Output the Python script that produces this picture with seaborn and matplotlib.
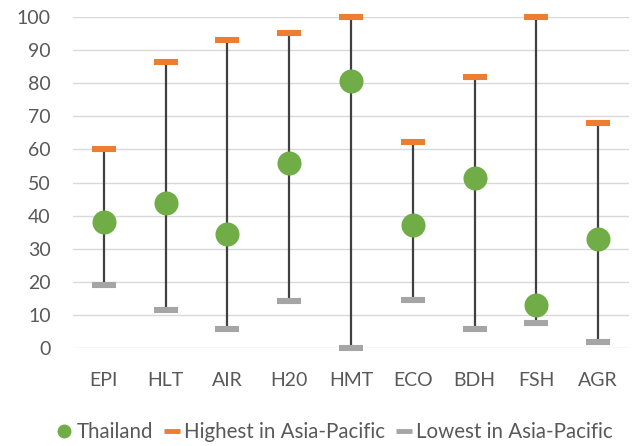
import numpy as np
import matplotlib
matplotlib.use("Agg")
import matplotlib.pyplot as plt
from matplotlib.lines import Line2D
import seaborn as sns
import pandas as pd

categories = ["EPI", "HLT", "AIR", "H20", "HMT", "ECO", "BDH", "FSH", "AGR"]
thailand = [38.1, 43.8, 34.5, 55.9, 80.6, 37.3, 51.4, 13.1, 33.1]
highest = [60.0, 86.3, 93.0, 95.0, 100.0, 62.3, 81.9, 100.0, 67.8]
lowest = [19.1, 11.6, 5.8, 14.2, 0.0, 14.7, 5.8, 7.5, 1.8]

GREEN = "#70AD47"
ORANGE = "#ED7D31"
GRAY = "#A5A5A5"
TEXT = "#595959"

sns.set_style("white")
plt.rcParams["font.family"] = ["Lato", "DejaVu Sans"]

df = pd.DataFrame({"cat": categories, "thailand": thailand,
                   "highest": highest, "lowest": lowest})

fig = plt.figure(figsize=(6.38, 4.46), dpi=100)
ax = fig.add_axes([73 / 638, (446 - 348.3) / 446, 556 / 638, 331.6 / 446])

pos = np.arange(len(categories))
ax.vlines(pos, df["lowest"], df["highest"], color="#404040", lw=1.6, zorder=2)

sns.scatterplot(x=pos, y=df["highest"], marker="_", s=280, linewidth=4.4,
                color=ORANGE, edgecolor=ORANGE, ax=ax, zorder=3, legend=False,
                clip_on=False)
sns.scatterplot(x=pos, y=df["lowest"], marker="_", s=280, linewidth=4.4,
                color=GRAY, edgecolor=GRAY, ax=ax, zorder=3, legend=False,
                clip_on=False)
sns.scatterplot(x=pos, y=df["thailand"], s=300, color=GREEN, edgecolor=GREEN,
                linewidth=0, ax=ax, zorder=4, legend=False, clip_on=False)

ax.set_xlim(-0.5, len(categories) - 0.5)
ax.set_ylim(0, 100)
ax.set_yticks(range(0, 101, 10))
ax.set_xticks(pos)
ax.set_xticklabels(categories)
ax.grid(axis="y", color="#D9D9D9", lw=1.0)
ax.set_axisbelow(True)
ax.tick_params(axis="x", length=0, pad=17, labelsize=14, colors=TEXT)
ax.tick_params(axis="y", length=0, pad=16, labelsize=14, colors=TEXT)
for s in ax.spines.values():
    s.set_visible(False)
ax.set_xlabel("")
ax.set_ylabel("")

handles = [
    Line2D([], [], marker="o", ls="", color=GREEN, markersize=9),
    Line2D([], [], marker="_", ls="", color=ORANGE, markersize=12, markeredgewidth=3.5),
    Line2D([], [], marker="_", ls="", color=GRAY, markersize=12, markeredgewidth=3.5),
]
labels = ["Thailand", "Highest in Asia-Pacific", "Lowest in Asia-Pacific"]
fig.legend(handles, labels, loc="center", bbox_to_anchor=(0.524, 0.032), ncol=3,
           frameon=False, fontsize=14.8, labelcolor=TEXT, handlelength=0.8,
           handletextpad=0.2, columnspacing=0.5)

fig.savefig("out.png", dpi=100)
